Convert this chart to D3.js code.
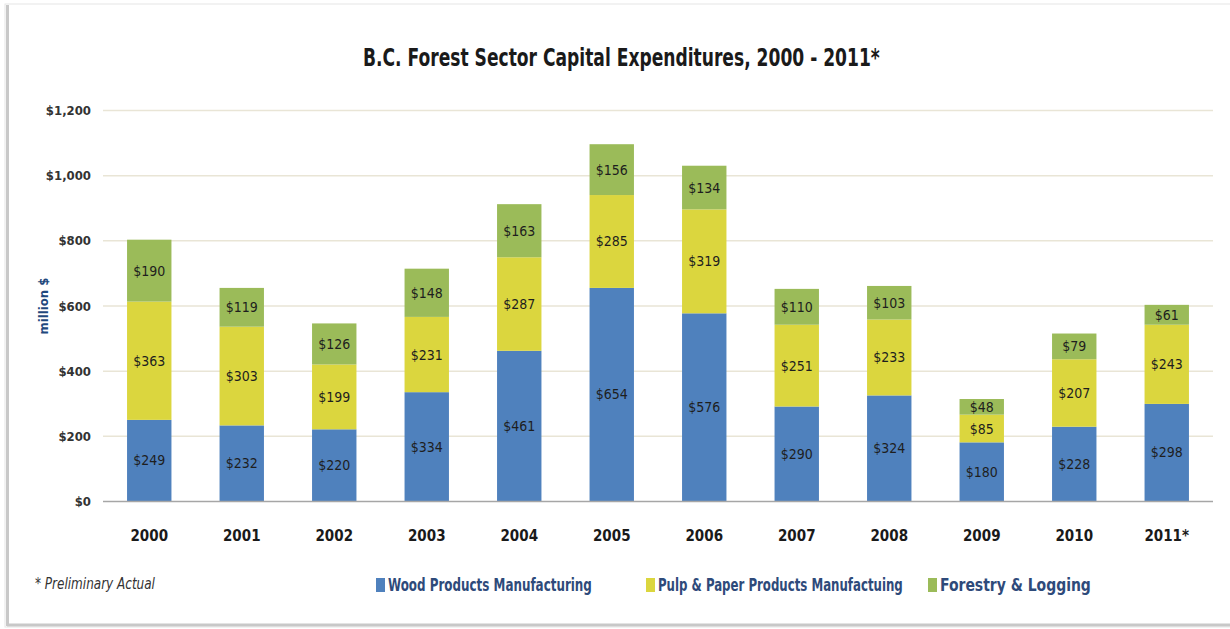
<!DOCTYPE html>
<html>
<head>
<meta charset="utf-8">
<script src="https://cdn.jsdelivr.net/npm/d3@7"></script>
<style>
  body { margin: 0; background: #fff; }
  svg { display: block; font-family: "DejaVu Sans Condensed", "Liberation Sans Narrow", "DejaVu Sans", sans-serif; font-stretch: condensed; }
</style>
</head>
<body>
<svg id="chart" width="1230" height="629"></svg>
<script>
const years = ['2000','2001','2002','2003','2004','2005','2006','2007','2008','2009','2010','2011*']
const wood = [249,232,220,334,461,654,576,290,324,180,228,298]
const pulp = [363,303,199,231,287,285,319,251,233,85,207,243]
const forestry = [190,119,126,148,163,156,134,110,103,48,79,61]
const seriesNames = ['Wood Products Manufacturing','Pulp & Paper Products Manufactuing','Forestry & Logging']
const seriesColors = ['#4f81bd','#dbd63e','#9bbb59']
const yTicks = [0,200,400,600,800,1000,1200]

const svg = d3.select('#chart')

// squeeze a text horizontally so it spans exactly w pixels from x0
function fitText(sel, x0, w) {
  sel.each(function () {
    const natural = this.getComputedTextLength()
    const k = w / natural
    d3.select(this).attr('x', 0).attr('transform', `translate(${x0},0) scale(${k},1)`)
  })
}

// frame with a soft shadow on the left and bottom
svg.append('rect').attr('x', 5).attr('y', 4).attr('width', 1240).attr('height', 623)
  .attr('fill', '#fff').attr('stroke', '#e6e6e6').attr('stroke-width', 1)
svg.append('line').attr('x1', 7.5).attr('x2', 7.5).attr('y1', 5).attr('y2', 626)
  .attr('stroke', '#c8c8c8').attr('stroke-width', 3)
svg.append('line').attr('x1', 7).attr('x2', 1230).attr('y1', 625).attr('y2', 625)
  .attr('stroke', '#c8c8c8').attr('stroke-width', 3)

const x = d3.scaleBand().domain(years).range([103, 1213]).paddingInner(0.52).paddingOuter(0.26)
const y = d3.scaleLinear().domain([0, 1200]).range([501, 110])

// gridlines
svg.append('g').selectAll('line').data(yTicks.slice(1)).enter().append('line')
  .attr('x1', 103).attr('x2', 1213)
  .attr('y1', d => y(d) + 0.5).attr('y2', d => y(d) + 0.5)
  .attr('stroke', '#e9e5d6').attr('stroke-width', 1.5)

// y tick labels
svg.append('g').selectAll('text').data(yTicks).enter().append('text')
  .attr('x', 91).attr('y', d => y(d) + 5)
  .attr('text-anchor', 'end')
  .style('font-size', '13px').style('font-weight', 'bold').style('fill', '#333')
  .text(d => '$' + d3.format(',')(d))

const rows = years.map((yr, i) => ({year: yr, wood: wood[i], pulp: pulp[i], forestry: forestry[i]}))
const stack = d3.stack().keys(['wood','pulp','forestry'])(rows)

const layers = svg.append('g').selectAll('g').data(stack).enter().append('g')
  .attr('fill', (d, i) => seriesColors[i])

layers.selectAll('rect').data(d => d).enter().append('rect')
  .attr('x', d => x(d.data.year))
  .attr('width', x.bandwidth())
  .attr('y', d => y(d[1]))
  .attr('height', d => y(d[0]) - y(d[1]))

layers.selectAll('text').data(d => d).enter().append('text')
  .attr('x', d => x(d.data.year) + x.bandwidth() / 2)
  .attr('y', d => (y(d[0]) + y(d[1])) / 2 + 5)
  .attr('text-anchor', 'middle')
  .style('font-size', '14px').style('fill', '#1e1e1e')
  .text(d => '$' + (d[1] - d[0]))

// x axis line
svg.append('line').attr('x1', 103).attr('x2', 1213).attr('y1', 501.5).attr('y2', 501.5)
  .attr('stroke', '#a6a6a6').attr('stroke-width', 1.5)

// x labels
svg.append('g').selectAll('text').data(years).enter().append('text')
  .attr('x', d => x(d) + x.bandwidth() / 2).attr('y', 541)
  .attr('text-anchor', 'middle')
  .style('font-size', '15px').style('font-weight', 'bold').style('fill', '#1a1a1a')
  .text(d => d)

// title
svg.append('text').attr('y', 66)
  .style('font-size', '25px').style('font-weight', 'bold').style('fill', '#1a1a1a')
  .text('B.C. Forest Sector Capital Expenditures, 2000 - 2011*')
  .call(fitText, 363, 517)

// y axis title
svg.append('text').attr('transform', 'translate(48,306) rotate(-90)')
  .attr('text-anchor', 'middle')
  .style('font-size', '13px').style('font-weight', 'bold').style('fill', '#1f497d')
  .text('million $')

// footnote
svg.append('text').attr('y', 589)
  .style('font-size', '15px').style('font-style', 'italic').style('fill', '#333')
  .text('* Preliminary Actual')
  .call(fitText, 35, 120)

// legend
const legendX = [376, 646, 928]
const legendW = [204, 245, 151]
const legend = svg.append('g').selectAll('g').data(seriesNames).enter().append('g')
legend.append('rect').attr('x', (d, i) => legendX[i]).attr('y', 578).attr('width', 9).attr('height', 14)
  .attr('fill', (d, i) => seriesColors[i])
legend.append('text').attr('y', 591)
  .style('font-size', '17px').style('font-weight', 'bold').style('fill', '#2e4a7a')
  .text(d => d)
  .each(function (d, i) { d3.select(this).call(fitText, legendX[i] + 12, legendW[i]) })
</script>
</body>
</html>
